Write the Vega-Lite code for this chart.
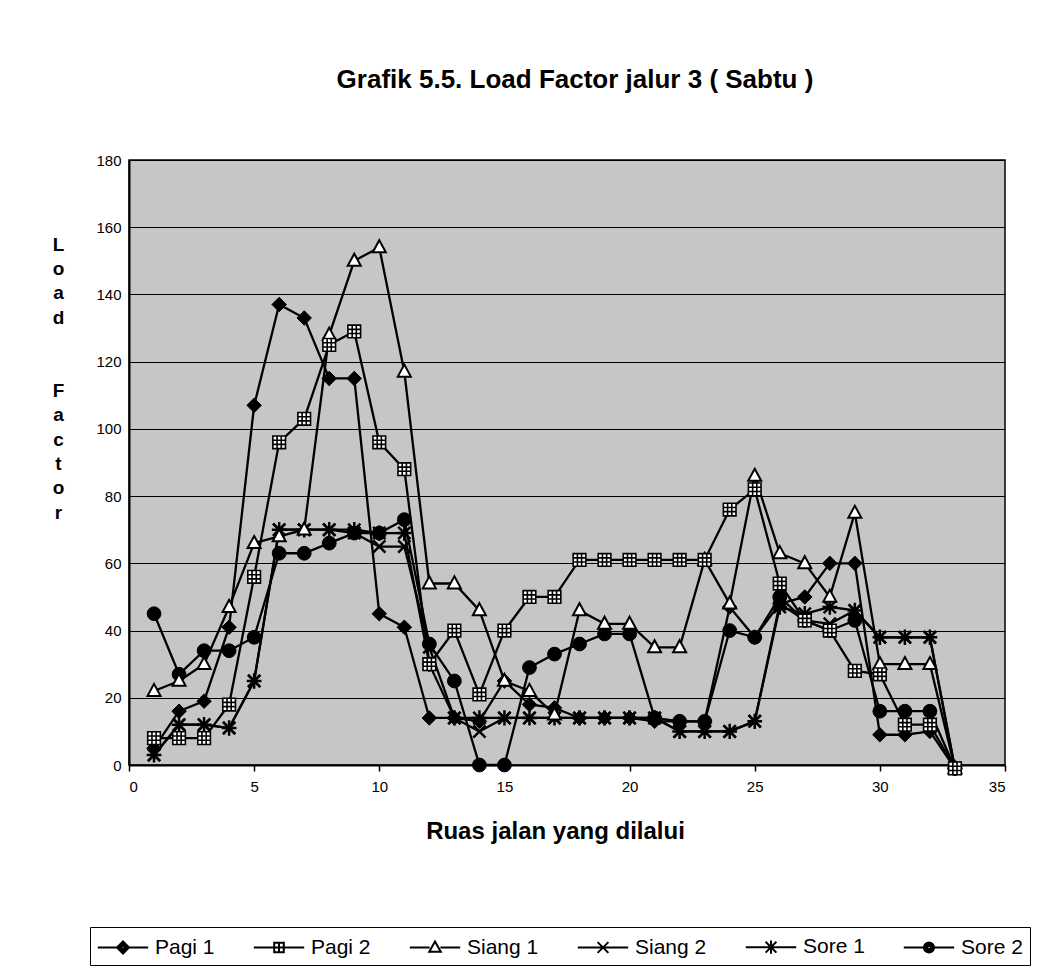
{
  "$schema": "https://vega.github.io/schema/vega-lite/v6.json",
  "width": 876,
  "height": 605,
  "autosize": "none",
  "padding": {"left": 129, "top": 160, "right": 40, "bottom": 203},
  "background": "white",
  "title": {
    "text": "Grafik 5.5. Load Factor jalur 3 ( Sabtu )",
    "font": "Liberation Sans",
    "fontSize": 26,
    "fontWeight": "bold",
    "color": "black",
    "anchor": "middle",
    "frame": "group",
    "offset": 60,
    "dx": 8
  },
  "config": {
    "view": {"fill": "#c6c6c6", "stroke": "black", "strokeWidth": 1.5},
    "font": "Liberation Sans"
  },
  "datasets": {
    "lf": [
      {"x":1,"s":"Pagi 1","v":5},{"x":2,"s":"Pagi 1","v":16},{"x":3,"s":"Pagi 1","v":19},{"x":4,"s":"Pagi 1","v":41},{"x":5,"s":"Pagi 1","v":107},{"x":6,"s":"Pagi 1","v":137},{"x":7,"s":"Pagi 1","v":133},{"x":8,"s":"Pagi 1","v":115},{"x":9,"s":"Pagi 1","v":115},{"x":10,"s":"Pagi 1","v":45},{"x":11,"s":"Pagi 1","v":41},{"x":12,"s":"Pagi 1","v":14},{"x":13,"s":"Pagi 1","v":14},{"x":14,"s":"Pagi 1","v":13},{"x":15,"s":"Pagi 1","v":25},{"x":16,"s":"Pagi 1","v":18},{"x":17,"s":"Pagi 1","v":17},{"x":18,"s":"Pagi 1","v":14},{"x":19,"s":"Pagi 1","v":14},{"x":20,"s":"Pagi 1","v":14},{"x":21,"s":"Pagi 1","v":13},{"x":22,"s":"Pagi 1","v":13},{"x":23,"s":"Pagi 1","v":13},{"x":24,"s":"Pagi 1","v":47},{"x":25,"s":"Pagi 1","v":38},{"x":26,"s":"Pagi 1","v":48},{"x":27,"s":"Pagi 1","v":50},{"x":28,"s":"Pagi 1","v":60},{"x":29,"s":"Pagi 1","v":60},{"x":30,"s":"Pagi 1","v":9},{"x":31,"s":"Pagi 1","v":9},{"x":32,"s":"Pagi 1","v":10},{"x":33,"s":"Pagi 1","v":-1},
      {"x":1,"s":"Pagi 2","v":8},{"x":2,"s":"Pagi 2","v":8},{"x":3,"s":"Pagi 2","v":8},{"x":4,"s":"Pagi 2","v":18},{"x":5,"s":"Pagi 2","v":56},{"x":6,"s":"Pagi 2","v":96},{"x":7,"s":"Pagi 2","v":103},{"x":8,"s":"Pagi 2","v":125},{"x":9,"s":"Pagi 2","v":129},{"x":10,"s":"Pagi 2","v":96},{"x":11,"s":"Pagi 2","v":88},{"x":12,"s":"Pagi 2","v":30},{"x":13,"s":"Pagi 2","v":40},{"x":14,"s":"Pagi 2","v":21},{"x":15,"s":"Pagi 2","v":40},{"x":16,"s":"Pagi 2","v":50},{"x":17,"s":"Pagi 2","v":50},{"x":18,"s":"Pagi 2","v":61},{"x":19,"s":"Pagi 2","v":61},{"x":20,"s":"Pagi 2","v":61},{"x":21,"s":"Pagi 2","v":61},{"x":22,"s":"Pagi 2","v":61},{"x":23,"s":"Pagi 2","v":61},{"x":24,"s":"Pagi 2","v":76},{"x":25,"s":"Pagi 2","v":82},{"x":26,"s":"Pagi 2","v":54},{"x":27,"s":"Pagi 2","v":43},{"x":28,"s":"Pagi 2","v":40},{"x":29,"s":"Pagi 2","v":28},{"x":30,"s":"Pagi 2","v":27},{"x":31,"s":"Pagi 2","v":12},{"x":32,"s":"Pagi 2","v":12},{"x":33,"s":"Pagi 2","v":-1},
      {"x":1,"s":"Siang 1","v":22},{"x":2,"s":"Siang 1","v":25},{"x":3,"s":"Siang 1","v":30},{"x":4,"s":"Siang 1","v":47},{"x":5,"s":"Siang 1","v":66},{"x":6,"s":"Siang 1","v":68},{"x":7,"s":"Siang 1","v":70},{"x":8,"s":"Siang 1","v":128},{"x":9,"s":"Siang 1","v":150},{"x":10,"s":"Siang 1","v":154},{"x":11,"s":"Siang 1","v":117},{"x":12,"s":"Siang 1","v":54},{"x":13,"s":"Siang 1","v":54},{"x":14,"s":"Siang 1","v":46},{"x":15,"s":"Siang 1","v":25},{"x":16,"s":"Siang 1","v":22},{"x":17,"s":"Siang 1","v":15},{"x":18,"s":"Siang 1","v":46},{"x":19,"s":"Siang 1","v":42},{"x":20,"s":"Siang 1","v":42},{"x":21,"s":"Siang 1","v":35},{"x":22,"s":"Siang 1","v":35},{"x":23,"s":"Siang 1","v":61},{"x":24,"s":"Siang 1","v":48},{"x":25,"s":"Siang 1","v":86},{"x":26,"s":"Siang 1","v":63},{"x":27,"s":"Siang 1","v":60},{"x":28,"s":"Siang 1","v":50},{"x":29,"s":"Siang 1","v":75},{"x":30,"s":"Siang 1","v":30},{"x":31,"s":"Siang 1","v":30},{"x":32,"s":"Siang 1","v":30},{"x":33,"s":"Siang 1","v":-1},
      {"x":1,"s":"Siang 2","v":3},{"x":2,"s":"Siang 2","v":12},{"x":3,"s":"Siang 2","v":12},{"x":4,"s":"Siang 2","v":11},{"x":5,"s":"Siang 2","v":25},{"x":6,"s":"Siang 2","v":70},{"x":7,"s":"Siang 2","v":70},{"x":8,"s":"Siang 2","v":70},{"x":9,"s":"Siang 2","v":69},{"x":10,"s":"Siang 2","v":65},{"x":11,"s":"Siang 2","v":65},{"x":12,"s":"Siang 2","v":35},{"x":13,"s":"Siang 2","v":14},{"x":14,"s":"Siang 2","v":10},{"x":15,"s":"Siang 2","v":14},{"x":16,"s":"Siang 2","v":14},{"x":17,"s":"Siang 2","v":14},{"x":18,"s":"Siang 2","v":14},{"x":19,"s":"Siang 2","v":14},{"x":20,"s":"Siang 2","v":14},{"x":21,"s":"Siang 2","v":14},{"x":22,"s":"Siang 2","v":10},{"x":23,"s":"Siang 2","v":10},{"x":24,"s":"Siang 2","v":10},{"x":25,"s":"Siang 2","v":13},{"x":26,"s":"Siang 2","v":48},{"x":27,"s":"Siang 2","v":43},{"x":28,"s":"Siang 2","v":42},{"x":29,"s":"Siang 2","v":46},{"x":30,"s":"Siang 2","v":38},{"x":31,"s":"Siang 2","v":38},{"x":32,"s":"Siang 2","v":38},{"x":33,"s":"Siang 2","v":-1},
      {"x":1,"s":"Sore 1","v":3},{"x":2,"s":"Sore 1","v":12},{"x":3,"s":"Sore 1","v":12},{"x":4,"s":"Sore 1","v":11},{"x":5,"s":"Sore 1","v":25},{"x":6,"s":"Sore 1","v":70},{"x":7,"s":"Sore 1","v":70},{"x":8,"s":"Sore 1","v":70},{"x":9,"s":"Sore 1","v":70},{"x":10,"s":"Sore 1","v":69},{"x":11,"s":"Sore 1","v":69},{"x":12,"s":"Sore 1","v":30},{"x":13,"s":"Sore 1","v":14},{"x":14,"s":"Sore 1","v":14},{"x":15,"s":"Sore 1","v":14},{"x":16,"s":"Sore 1","v":14},{"x":17,"s":"Sore 1","v":14},{"x":18,"s":"Sore 1","v":14},{"x":19,"s":"Sore 1","v":14},{"x":20,"s":"Sore 1","v":14},{"x":21,"s":"Sore 1","v":14},{"x":22,"s":"Sore 1","v":10},{"x":23,"s":"Sore 1","v":10},{"x":24,"s":"Sore 1","v":10},{"x":25,"s":"Sore 1","v":13},{"x":26,"s":"Sore 1","v":47},{"x":27,"s":"Sore 1","v":45},{"x":28,"s":"Sore 1","v":47},{"x":29,"s":"Sore 1","v":46},{"x":30,"s":"Sore 1","v":38},{"x":31,"s":"Sore 1","v":38},{"x":32,"s":"Sore 1","v":38},{"x":33,"s":"Sore 1","v":-1},
      {"x":1,"s":"Sore 2","v":45},{"x":2,"s":"Sore 2","v":27},{"x":3,"s":"Sore 2","v":34},{"x":4,"s":"Sore 2","v":34},{"x":5,"s":"Sore 2","v":38},{"x":6,"s":"Sore 2","v":63},{"x":7,"s":"Sore 2","v":63},{"x":8,"s":"Sore 2","v":66},{"x":9,"s":"Sore 2","v":69},{"x":10,"s":"Sore 2","v":69},{"x":11,"s":"Sore 2","v":73},{"x":12,"s":"Sore 2","v":36},{"x":13,"s":"Sore 2","v":25},{"x":14,"s":"Sore 2","v":0},{"x":15,"s":"Sore 2","v":0},{"x":16,"s":"Sore 2","v":29},{"x":17,"s":"Sore 2","v":33},{"x":18,"s":"Sore 2","v":36},{"x":19,"s":"Sore 2","v":39},{"x":20,"s":"Sore 2","v":39},{"x":21,"s":"Sore 2","v":14},{"x":22,"s":"Sore 2","v":13},{"x":23,"s":"Sore 2","v":13},{"x":24,"s":"Sore 2","v":40},{"x":25,"s":"Sore 2","v":38},{"x":26,"s":"Sore 2","v":50},{"x":27,"s":"Sore 2","v":43},{"x":28,"s":"Sore 2","v":40},{"x":29,"s":"Sore 2","v":43},{"x":30,"s":"Sore 2","v":16},{"x":31,"s":"Sore 2","v":16},{"x":32,"s":"Sore 2","v":16},{"x":33,"s":"Sore 2","v":-1}
    ]
  },
  "encoding": {
    "x": {
      "field": "x", "type": "quantitative",
      "scale": {"domain": [0, 35], "nice": false, "zero": false},
      "axis": {
        "values": [0, 5, 10, 15, 20, 25, 30, 35],
        "grid": false,
        "title": "Ruas jalan yang dilalui",
        "titleFont": "Liberation Sans",
        "titleFontSize": 24,
        "titleFontWeight": "bold",
        "titleColor": "black",
        "titleX": 426,
        "titleY": 73,
        "titleBaseline": "alphabetic",
        "labelFont": "Liberation Sans",
        "labelFontSize": 15,
        "labelColor": "black",
        "labelPadding": 8,
        "tickSize": 6,
        "tickColor": "black",
        "tickWidth": 1.5,
        "domainColor": "black",
        "domainWidth": 2
      }
    },
    "y": {
      "field": "v", "type": "quantitative",
      "scale": {"domain": [0, 180], "nice": false},
      "axis": {
        "values": [0, 20, 40, 60, 80, 100, 120, 140, 160, 180],
        "grid": true,
        "gridColor": "black",
        "gridWidth": 1.2,
        "gridOpacity": 1,
        "ticks": false,
        "title": ["L", "o", "a", "d", "\u200b", "\u200b", "F", "a", "c", "t", "o", "r"],
        "titleAngle": 0,
        "titleAlign": "center",
        "titleBaseline": "top",
        "titleX": -71,
        "titleY": 75,
        "titleLineHeight": 24.4,
        "titleFont": "Liberation Sans",
        "titleFontSize": 19,
        "titleFontWeight": "bold",
        "titleColor": "black",
        "labelFont": "Liberation Sans",
        "labelFontSize": 15,
        "labelColor": "black",
        "labelPadding": 8,
        "domainColor": "black",
        "domainWidth": 2
      }
    }
  },
  "layer": [
    {
      "data": {"name": "lf"},
      "mark": {"type": "line", "stroke": "black", "strokeWidth": 2.3},
      "encoding": {"detail": {"field": "s", "type": "nominal"}}
    },
    {
      "data": {"name": "lf"},
      "transform": [{"filter": "datum.s === 'Siang 2'"}],
      "mark": {"type": "point", "shape": "M-1,-1L1,1M-1,1L1,-1", "fill": "black", "stroke": "black", "strokeWidth": 2.5, "size": 150, "opacity": 1}
    },
    {
      "data": {"name": "lf"},
      "transform": [{"filter": "datum.s === 'Sore 1'"}],
      "mark": {"type": "point", "shape": "M-1,-1L1,1M-1,1L1,-1M0,-1.25V1.25M-1.2,0H1.2", "fill": "black", "stroke": "black", "strokeWidth": 2.5, "size": 150, "opacity": 1}
    },
    {
      "data": {"name": "lf"},
      "transform": [{"filter": "datum.s === 'Sore 2'"}],
      "mark": {"type": "point", "shape": "circle", "fill": "black", "stroke": "black", "strokeWidth": 1, "size": 190, "opacity": 1}
    },
    {
      "data": {"name": "lf"},
      "transform": [{"filter": "datum.s === 'Pagi 1'"}],
      "mark": {"type": "point", "shape": "M0,-1L1,0L0,1L-1,0Z", "fill": "black", "stroke": "black", "strokeWidth": 1, "size": 210, "opacity": 1}
    },
    {
      "data": {"name": "lf"},
      "transform": [{"filter": "datum.s === 'Siang 1'"}],
      "mark": {"type": "point", "shape": "M0,-1.1L1,0.75H-1Z", "fill": "white", "stroke": "black", "strokeWidth": 2, "size": 170, "opacity": 1}
    },
    {
      "data": {"name": "lf"},
      "transform": [{"filter": "datum.s === 'Pagi 2'"}],
      "mark": {"type": "point", "shape": "M-1,-1H1V1H-1ZM-0.33,-1V1M0.33,-1V1M-1,-0.33H1M-1,0.33H1", "fill": "white", "stroke": "black", "strokeWidth": 1.6, "size": 160, "opacity": 1}
    },
    {
      "data": {"name": "lf"},
      "transform": [{"filter": "datum.x > 100"}],
      "mark": {"type": "point", "filled": false, "color": "black", "stroke": "black", "strokeWidth": 2, "opacity": 1},
      "encoding": {
        "shape": {
          "field": "s", "type": "nominal",
          "scale": {
            "domain": ["Pagi 1", "Pagi 2", "Siang 1", "Siang 2", "Sore 1", "Sore 2"],
            "range": [
              "M-2.1,0H-0.5M0.5,0H2.1M0,-0.5L0.5,0L0,0.5L-0.5,0ZM0,-0.33L0.33,0L0,0.33L-0.33,0ZM0,-0.17L0.17,0L0,0.17L-0.17,0Z",
              "M-2.1,0H-0.4M0.4,0H2.1M-0.4,-0.4H0.4V0.4H-0.4ZM0,-0.4V0.4M-0.4,0H0.4",
              "M-2.1,0H-0.45M0.45,0H2.1M0,-0.5L0.48,0.35H-0.48Z",
              "M-2.1,0H2.1M-0.45,-0.45L0.45,0.45M-0.45,0.45L0.45,-0.45",
              "M-2.1,0H2.1M-0.45,-0.45L0.45,0.45M-0.45,0.45L0.45,-0.45M0,-0.55V0.55",
              "M-2.1,0H-0.42M0.42,0H2.1M0.42,0A0.42,0.42,0,1,1,-0.42,0A0.42,0.42,0,1,1,0.42,0ZM0.28,0A0.28,0.28,0,1,1,-0.28,0A0.28,0.28,0,1,1,0.28,0ZM0.14,0A0.14,0.14,0,1,1,-0.14,0A0.14,0.14,0,1,1,0.14,0Z"
            ]
          },
          "legend": {
            "orient": "none", "legendX": -39, "legendY": 767,
            "direction": "horizontal", "columns": 6, "title": null,
            "symbolSize": 576, "symbolStrokeWidth": 2, "symbolStrokeColor": "black",
            "symbolFillColor": "transparent",
            "symbolOffset": 13,
            "labelFont": "Liberation Sans",
            "labelFontSize": 21, "labelColor": "black", "labelOffset": 19,
            "columnPadding": 34, "strokeColor": "black", "padding": 7
          }
        }
      }
    }
  ]
}
